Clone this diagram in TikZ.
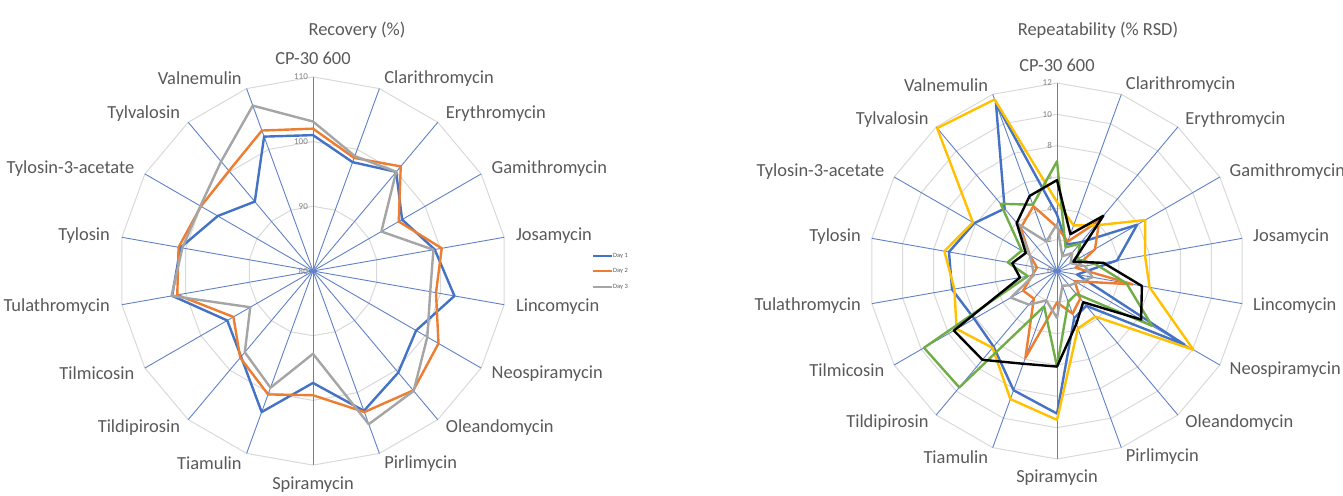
\documentclass[tikz,border=0pt]{standalone}
\usepackage{fontspec}
\setmainfont{Carlito}
\usetikzlibrary{calc}
\definecolor{txtgray}{RGB}{89,89,89}
\definecolor{tickgray}{RGB}{128,128,128}
\definecolor{ringgray}{RGB}{217,217,217}
\definecolor{spokeblue}{RGB}{96,128,200}
\definecolor{xlblue}{RGB}{68,114,196}
\definecolor{xlorange}{RGB}{237,125,49}
\definecolor{xlgray}{RGB}{165,165,165}
\definecolor{xlgold}{RGB}{255,192,0}
\definecolor{xlgreen}{RGB}{112,173,71}
\newcommand{\lblfont}{\fontsize{18.5}{22}\selectfont}

\newcommand{\recline}[2]{%
  \foreach \v [count=\i from 0] in {#2}
    \coordinate (rp\i) at ($(cL)+({90-20*\i}:{(\v-80)*6.47})$);
  \draw[serie,#1] (rp0) \foreach \i in {1,...,17}{-- (rp\i)} -- cycle;}
\newcommand{\rsdline}[2]{%
  \foreach \v [count=\i from 0] in {#2}
    \coordinate (sp\i) at ($(cR)+({90-20*\i}:{\v*15.67})$);
  \draw[serie,#1] (sp0) \foreach \i in {1,...,17}{-- (sp\i)} -- cycle;}

\begin{document}
\begin{tikzpicture}[x=1bp, y=1bp,
    ring/.style={ringgray, line width=1bp},
    spoke/.style={spokeblue, line width=0.9bp},
    serie/.style={line width=2.4bp, line join=round},
    catlabel/.style={text=txtgray, font=\lblfont, inner sep=1bp},
    ticklabel/.style={text=tickgray, font=\fontsize{9}{10}\selectfont, inner sep=1bp, anchor=east},
    legline/.style={line width=1.8bp},
    legtext/.style={text=txtgray, font=\fontsize{6.5}{7}\selectfont, anchor=west, inner sep=1bp}]
  \useasboundingbox (0,0) rectangle (1343,496);
  \coordinate (cL) at (313,225);
  \coordinate (cR) at (1057,225);

  % grid
  \foreach \r in {64.7,129.4,194.1}
    \draw[ring] ($(cL)+(90:\r)$) \foreach \k in {1,...,17}{-- ($(cL)+({90-20*\k}:\r)$)} -- cycle;
  \foreach \r in {31.3,62.7,94,125.3,156.7,188}
    \draw[ring] ($(cR)+(90:\r)$) \foreach \k in {1,...,17}{-- ($(cR)+({90-20*\k}:\r)$)} -- cycle;
  \foreach \k in {0,...,17} {
    \draw[spoke] (cL) -- ($(cL)+({90-20*\k}:194.1)$);
    \draw[spoke] (cR) -- ($(cR)+({90-20*\k}:188)$);
  }

  % tick labels
  \foreach \v in {80,90,100,110}
    \node[ticklabel] (tickL\v) at ($(cL)+(-4,{(\v-80)*6.47})$) {\v};
  \foreach \v in {0,2,...,12}
    \node[ticklabel] (tickR\v) at ($(cR)+(-4,{\v*15.67})$) {\v};

  % category labels
  \foreach \name/\an [count=\i from 0] in {CP-30 600/south,Clarithromycin/west,Erythromycin/west,Gamithromycin/west,Josamycin/west,Lincomycin/west,Neospiramycin/west,Oleandomycin/west,Pirlimycin/west,Spiramycin/north,Tiamulin/east,Tildipirosin/east,Tilmicosin/east,Tulathromycin/east,Tylosin/east,Tylosin-3-acetate/east,Tylvalosin/east,Valnemulin/east} {
    \node[catlabel, anchor=\an] (labL\i) at ($(cL)+({90-20*\i}:205)$) {\name};
    \node[catlabel, anchor=\an] (labR\i) at ($(cR)+({90-20*\i}:198)$) {\name};
  }

  % titles
  \node[catlabel] (titleL) at (357,466) {Recovery (\%)};
  \node[catlabel] (titleR) at (1098,466) {Repeatability (\% RSD)};

  % recovery
  \recline{xlblue}{101.0,97.9,100.0,95.9,99.1,102.2,98.4,100.5,103.0,97.3,103.2,97.3,95.3,102.1,100.8,97.0,94.0,102.1}
  \recline{xlorange}{102.0,98.6,101.1,95.3,100.2,99.3,102.4,104.1,103.2,99.2,100.3,97.5,94.2,101.3,101.1,100.0,100.2,103.1}
  \recline{xlgray}{103.1,98.9,100.0,92.2,98.9,98.4,100.4,104.2,105.2,92.8,99.2,96.4,91.2,102.2,100.5,100.1,102.1,107.2}

  % legend
  \coordinate (lg1a) at (593,240); \coordinate (lg1b) at (612,240);
  \coordinate (lg2a) at (593,225); \coordinate (lg2b) at (612,225);
  \coordinate (lg3a) at (593,209); \coordinate (lg3b) at (612,209);
  \draw[legline, xlblue] (lg1a) -- (lg1b);
  \draw[legline, xlorange] (lg2a) -- (lg2b);
  \draw[legline, xlgray] (lg3a) -- (lg3b);
  \node[legtext] (leg1) at (lg1b) {Day 1};
  \node[legtext] (leg2) at (lg2b) {Day 2};
  \node[legtext] (leg3) at (lg3b) {Day 3};

  % repeatability
  \rsdline{xlblue}{3.6,1.8,2.4,5.9,3.9,1.3,9.4,2.9,3.2,9.1,8.1,6.3,6.1,6.8,7.0,6.1,5.2,11.4}
  \rsdline{xlorange}{2.8,2.0,4.2,2.8,1.2,4.9,1.3,2.3,2.9,2.0,5.9,2.3,2.5,1.6,1.3,2.0,3.6,4.4}
  \rsdline{xlgray}{3.0,1.0,1.5,1.0,1.8,2.3,1.5,1.2,1.0,3.0,2.0,2.8,3.4,1.5,1.6,2.0,4.0,2.0}
  \rsdline{xlgold}{4.4,3.1,3.8,6.5,5.7,6.0,10.05,3.8,3.9,9.5,8.7,6.4,7.4,6.65,7.3,6.2,11.9,11.65}
  \rsdline{xlgreen}{7.0,1.6,2.3,1.5,2.5,4.5,7.0,1.9,2.1,6.1,2.4,9.7,9.8,1.9,3.2,2.6,5.6,4.5}
  \rsdline{black}{5.8,2.5,4.6,1.2,3.0,5.5,6.2,2.6,3.6,6.1,6.3,7.4,7.6,2.4,2.9,2.3,4.0,5.1}
\end{tikzpicture}
\end{document}
